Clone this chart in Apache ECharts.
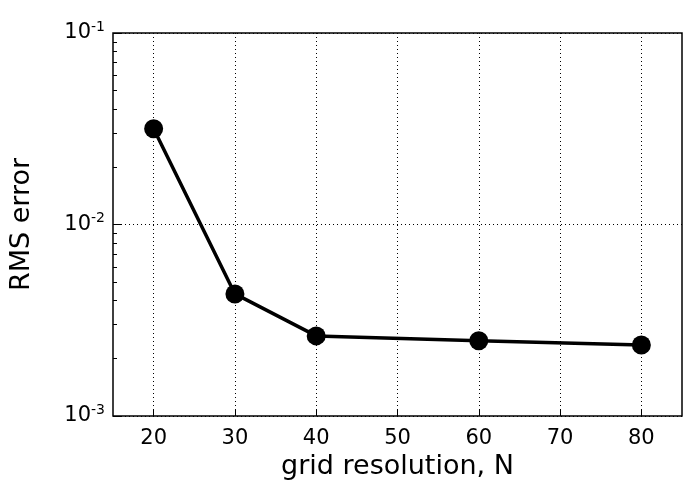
<!DOCTYPE html>
<html><head><meta charset="utf-8">
<script src="https://cdn.jsdelivr.net/npm/echarts@6/dist/echarts.min.js"></script>
<style>html,body{margin:0;background:#fff}#c{width:700px;height:500px}</style>
</head><body><div id="c"></div>
<script>
var resolution = [20, 30, 40, 60, 80];
var rmsError = [0.0316, 0.00434, 0.00262, 0.00247, 0.00235];
var xTicks = [20, 30, 40, 50, 60, 70, 80];

var chart = echarts.init(document.getElementById('c'));
var font = 'DejaVu Sans';
chart.setOption({
	animation: false,
	grid: { left: 111, right: 18, top: 33, bottom: 84, show: true, borderColor: '#000', borderWidth: 1.5 },
	xAxis: {
		type: 'value', min: 15, max: 85, interval: 5,
		name: 'grid resolution, N', nameLocation: 'middle', nameGap: 34,
		nameTextStyle: { fontFamily: font, fontSize: 27, color: '#000' },
		axisLine: { show: false },
		axisTick: { inside: true, length: 6, lineStyle: { color: '#000' }, customValues: xTicks },
		axisLabel: { fontFamily: font, fontSize: 21, color: '#000', margin: 12, customValues: xTicks },
		splitLine: { show: true, lineStyle: { color: '#000', type: [1, 3], width: 1 } }
	},
	yAxis: {
		type: 'log', logBase: 10, min: 0.001, max: 0.1,
		name: 'RMS error', nameLocation: 'middle', nameGap: 78,
		nameTextStyle: { fontFamily: font, fontSize: 27, color: '#000' },
		axisLine: { show: false },
		axisTick: { inside: true, length: 8, lineStyle: { color: '#000' } },
		minorTick: { show: true, splitNumber: 9, length: 4, lineStyle: { color: '#000' } },
		axisLabel: {
			margin: 8,
			formatter: function(v) {
				var e = Math.round(Math.log10(v));
				return '{b|10}{s|' + e + '}';
			},
			rich: {
				b: { fontFamily: font, fontSize: 21, color: '#000' },
				s: { fontFamily: font, fontSize: 14, color: '#000', padding: [0, 0, 12, 0] }
			}
		},
		splitLine: { show: true, lineStyle: { color: '#000', type: [1, 3], width: 1 } }
	},
	series: [{
		type: 'line',
		data: resolution.map(function(x, i) { return [x, rmsError[i]]; }),
		lineStyle: { color: '#000', width: 3.5 },
		itemStyle: { color: '#000' },
		symbol: 'circle', symbolSize: 19
	}]
});
</script></body></html>
